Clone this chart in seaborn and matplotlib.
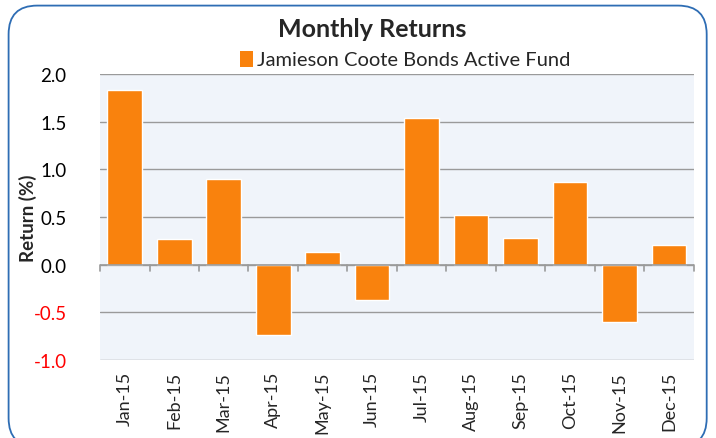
import matplotlib
matplotlib.use("Agg")
import matplotlib.pyplot as plt
import seaborn as sns
import pandas as pd
from matplotlib.patches import FancyBboxPatch, Rectangle

months = ["Jan-15", "Feb-15", "Mar-15", "Apr-15", "May-15", "Jun-15",
          "Jul-15", "Aug-15", "Sep-15", "Oct-15", "Nov-15", "Dec-15"]
returns = [1.83, 0.27, 0.90, -0.74, 0.13, -0.37, 1.54, 0.52, 0.28, 0.87, -0.60, 0.21]
series_name = "Jamieson Coote Bonds Active Fund"
yticks = [2.0, 1.5, 1.0, 0.5, 0.0, -0.5, -1.0]

df = pd.DataFrame({"Month": months, "Return": returns})

sns.set_theme(style="white")
plt.rcParams['font.family'] = ['Lato', 'DejaVu Sans']

fig = plt.figure(figsize=(7.16, 4.39), dpi=100)
ax = fig.add_axes([0.1397, 0.178, 0.969 - 0.1397, 0.829 - 0.178])

orange = "#F9820D"
sns.barplot(data=df, x="Month", y="Return", color=orange, width=0.7,
            saturation=1, ax=ax, zorder=3)

ax.set_facecolor("#F0F4FA")
ax.set_ylim(-1.0, 2.0)
ax.set_xlim(-0.5, len(months) - 0.5)
ax.set_yticks(yticks)
ax.set_yticklabels([f"{v:.1f}" for v in yticks], fontsize=13.5)
for lbl, v in zip(ax.get_yticklabels(), yticks):
    lbl.set_color("red" if v < 0 else "black")
ax.tick_params(axis="y", length=0, pad=24)
ax.yaxis.grid(True, color="#9a9a9a", linewidth=1.0, zorder=0)
ax.set_axisbelow(True)
for s in ["left", "right", "top", "bottom"]:
    ax.spines[s].set_visible(False)

# zero line with tick marks
ax.axhline(0, color="#9a9a9a", linewidth=1.2, zorder=4)
ax.set_xticks(range(len(months)))
ax.set_xticklabels(months, rotation=90, fontsize=13)
ax.tick_params(axis="x", length=0, pad=8)
for i in range(len(months) + 1):
    ax.plot([i - 0.5, i - 0.5], [0, -0.07], color="#9a9a9a", lw=1.2,
            zorder=4, clip_on=False)

ax.set_xlabel("")
ax.set_ylabel("Return (%)", fontsize=13.5, fontweight="bold")
ax.yaxis.set_label_coords(-0.106, 0.5)

fig.text(0.52, 0.932, "Monthly Returns", ha="center", va="center",
         fontsize=18, fontweight="bold")
fig.patches.append(Rectangle((0.335, 0.845), 0.018, 0.036, transform=fig.transFigure,
                             facecolor=orange, edgecolor="none"))
fig.text(0.359, 0.862, series_name, ha="left", va="center", fontsize=14.5)

border = FancyBboxPatch((0.012, -0.02), 0.975, 1.005,
                        boxstyle="round,pad=0,rounding_size=0.04",
                        transform=fig.transFigure, facecolor="none",
                        edgecolor="#2E6DB4", linewidth=1.3,
                        mutation_aspect=716 / 439)
fig.patches.append(border)

fig.savefig("out.png", dpi=100)
